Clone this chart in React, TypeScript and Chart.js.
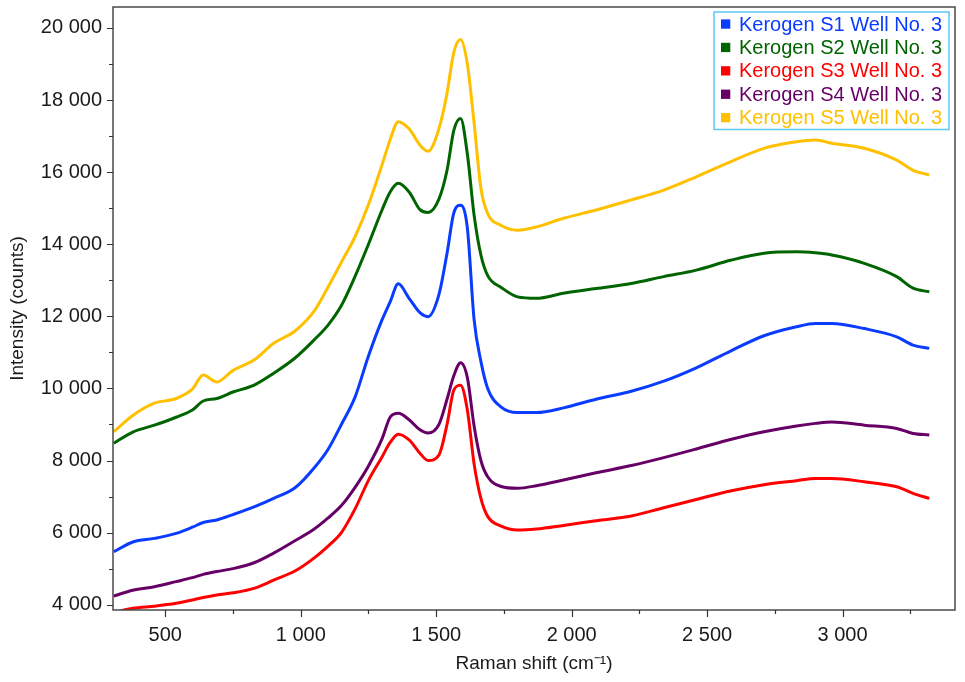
import React, { useEffect, useRef } from "react";
import { Chart, registerables } from "chart.js";

Chart.register(...registerables);

// Raman shift (cm⁻¹) sample positions
const ramanShift = [
  310, 380, 460, 540, 600, 640, 690, 750, 830, 900, 980, 1050, 1100, 1150, 1200, 1250,
  1300, 1330, 1360, 1400, 1440, 1470, 1510, 1540, 1565, 1590, 1615, 1640, 1665, 1690,
  1740, 1800, 1870, 1970, 2090, 2220, 2340, 2460, 2590, 2710, 2830, 2900, 2960, 3080,
  3200, 3260, 3320,
];

const kerogenS1 = [
  5470, 5740, 5840, 5980, 6150, 6280, 6350, 6500, 6720, 6950, 7250, 7800, 8300, 9000, 9750, 10900,
  11900, 12400, 12900, 12500, 12100, 11990, 12600, 13750, 14870, 15080, 14450, 11900, 10750, 10000,
  9480, 9330, 9330, 9460, 9700, 9920, 10200, 10570, 11050, 11460, 11710, 11800, 11800, 11660,
  11430, 11200, 11110,
];

const kerogenS2 = [
  8480, 8790, 8980, 9200, 9400, 9650, 9720, 9900, 10100, 10420, 10850, 11350, 11750, 12300, 13100, 14000,
  14950, 15450, 15690, 15450, 14960, 14880, 15250, 16050, 17160, 17490, 16500, 14800, 13700, 13130,
  12800, 12540, 12500, 12640, 12770, 12910, 13100, 13280, 13560, 13750, 13790, 13760, 13700, 13470,
  13100, 12780, 12680,
];

const kerogenS3 = [
  3780, 3900, 3960, 4040, 4130, 4200, 4270, 4330, 4460, 4680, 4940, 5300, 5620, 6000, 6650, 7450,
  8100, 8500, 8730, 8570, 8200, 8000, 8150, 9000, 9950, 10090, 9400, 7900, 6950, 6450,
  6180, 6070, 6100, 6200, 6330, 6460, 6690, 6920, 7160, 7330, 7440, 7500, 7500, 7410,
  7270, 7090, 6950,
];

const kerogenS4 = [
  4240, 4400, 4500, 4640, 4750, 4840, 4920, 5000, 5170, 5430, 5780, 6100, 6400, 6750, 7250, 7850,
  8600, 9200, 9310, 9130, 8850, 8760, 9000, 9700, 10350, 10710, 10300, 8950, 8000, 7550,
  7280, 7230, 7300, 7460, 7660, 7860, 8080, 8320, 8590, 8800, 8960, 9030, 9070, 8980,
  8890, 8750, 8710,
];

const kerogenS5 = [
  8800, 9250, 9590, 9720, 9980, 10370, 10180, 10500, 10800, 11250, 11600, 12150, 12800, 13500, 14200, 15100,
  16200, 16900, 17400, 17200, 16750, 16580, 17200, 18190, 19320, 19680, 19000, 17350, 15550, 14850,
  14520, 14390, 14480, 14720, 14950, 15230, 15500, 15870, 16300, 16660, 16840, 16890, 16800, 16660,
  16330, 16050, 15920,
];

const xTickValues = [500, 1000, 1500, 2000, 2500, 3000];
const yTickValues = [4000, 6000, 8000, 10000, 12000, 14000, 16000, 18000, 20000];
const xMinorTickValues = [750, 1250, 1750, 2250, 2750, 3250];
const yMinorTickValues = [5000, 7000, 9000, 11000, 13000, 15000, 17000, 19000];

const seriesLabels = [
  "Kerogen S1 Well No. 3",
  "Kerogen S2 Well No. 3",
  "Kerogen S3 Well No. 3",
  "Kerogen S4 Well No. 3",
  "Kerogen S5 Well No. 3",
];
const seriesValues = [kerogenS1, kerogenS2, kerogenS3, kerogenS4, kerogenS5];
const seriesColors = ["#0a3cff", "#006400", "#ff0000", "#660066", "#ffc000"];

const FONT = '"Liberation Sans", Arial, sans-serif';

const fmt = (v: number) => String(v).replace(/\B(?=(\d{3})+(?!\d))/g, " ");

const framePlugin = {
  id: "frameAndLegend",
  afterDraw(chart: any) {
    const { ctx, chartArea } = chart;
    const { left, right, top, bottom } = chartArea;
    const xs = chart.scales.x;
    const ys = chart.scales.y;
    ctx.save();
    // frame
    ctx.strokeStyle = "#4a4a4a";
    ctx.lineWidth = 1.5;
    ctx.strokeRect(left, top, right - left, bottom - top);
    // tick marks (major + minor)
    ctx.lineWidth = 1.2;
    ctx.strokeStyle = "#333";
    ctx.beginPath();
    yTickValues.forEach((v) => {
      const py = Math.round(ys.getPixelForValue(v)) + 0.5;
      ctx.moveTo(left - 6, py);
      ctx.lineTo(left, py);
    });
    yMinorTickValues.forEach((v) => {
      const py = Math.round(ys.getPixelForValue(v)) + 0.5;
      ctx.moveTo(left - 4, py);
      ctx.lineTo(left, py);
    });
    xTickValues.forEach((v) => {
      const px = Math.round(xs.getPixelForValue(v)) + 0.5;
      ctx.moveTo(px, bottom);
      ctx.lineTo(px, bottom + 7);
    });
    xMinorTickValues.forEach((v) => {
      const px = Math.round(xs.getPixelForValue(v)) + 0.5;
      ctx.moveTo(px, bottom);
      ctx.lineTo(px, bottom + 4);
    });
    ctx.stroke();

    // legend box
    const boxRight = right - 6;
    const boxTop = top + 5;
    const boxW = 235;
    const rowH = 23.4;
    const boxH = rowH * seriesLabels.length + 0.5;
    const boxLeft = boxRight - boxW;
    ctx.fillStyle = "#ffffff";
    ctx.fillRect(boxLeft, boxTop, boxW, boxH);
    ctx.strokeStyle = "#5bc8f5";
    ctx.lineWidth = 1.5;
    ctx.strokeRect(boxLeft, boxTop, boxW, boxH);
    ctx.font = `20px ${FONT}`;
    ctx.textBaseline = "middle";
    ctx.textAlign = "left";
    chart.data.datasets.forEach((ds: any, i: number) => {
      const cy = boxTop + rowH * i + rowH / 2 + 0.3;
      ctx.fillStyle = ds.borderColor;
      ctx.fillRect(boxLeft + 7, cy - 4.6, 9.3, 9.3);
      ctx.fillText(ds.label, boxLeft + 25, cy + 1);
    });
    ctx.restore();
  },
};

export default function App() {
  const canvasRef = useRef<HTMLCanvasElement | null>(null);

  useEffect(() => {
    if (!canvasRef.current) return;
    const datasets = seriesLabels.map((label, i) => ({
      label,
      data: ramanShift.map((x, j) => ({ x, y: seriesValues[i][j] })),
      borderColor: seriesColors[i],
      backgroundColor: seriesColors[i],
      borderWidth: 3,
      pointRadius: 0,
      fill: false,
      cubicInterpolationMode: "monotone" as const,
    }));
    const chart = new Chart(canvasRef.current, {
      type: "line",
      data: { datasets },
      plugins: [framePlugin],
      options: {
        responsive: false,
        animation: false,
        layout: { padding: { left: 0, right: 10, top: 7, bottom: 0 } },
        plugins: {
          legend: { display: false },
          tooltip: { enabled: false },
        },
        scales: {
          x: {
            type: "linear",
            min: 307,
            max: 3415,
            grid: { display: false, drawTicks: true, tickLength: 7 },
            border: { display: false },
            afterBuildTicks: (scale: any) => {
              scale.ticks = xTickValues.map((value) => ({ value }));
            },
            ticks: {
              padding: 6,
              color: "#1a1a1a",
              font: { family: FONT, size: 20 },
              maxRotation: 0,
              autoSkip: false,
              callback: (v: any) => fmt(Number(v)),
            },
            title: {
              display: true,
              text: "Raman shift (cm⁻¹)",
              color: "#1a1a1a",
              font: { family: FONT, size: 19 },
              padding: { top: 0, bottom: 7 },
            },
            afterFit: (scale: any) => {
              scale.height = 72;
              scale.paddingLeft = 0;
              scale.paddingRight = 0;
            },
          },
          y: {
            type: "linear",
            min: 3853,
            max: 20580,
            grid: { display: false, drawTicks: true, tickLength: 6 },
            border: { display: false },
            afterBuildTicks: (scale: any) => {
              scale.ticks = yTickValues.map((value) => ({ value }));
            },
            ticks: {
              padding: 5,
              color: "#1a1a1a",
              font: { family: FONT, size: 20 },
              autoSkip: false,
              callback: (v: any) => fmt(Number(v)),
            },
            title: {
              display: true,
              text: "Intensity (counts)",
              color: "#1a1a1a",
              font: { family: FONT, size: 19 },
              padding: { top: 6, bottom: 0 },
            },
            afterFit: (scale: any) => {
              scale.width = 113;
              scale.paddingTop = 0;
              scale.paddingBottom = 0;
            },
          },
        },
      },
    });
    return () => chart.destroy();
  }, []);

  return (
    <div
      style={{
        position: "fixed",
        left: 0,
        top: 0,
        width: 965,
        height: 682,
        background: "#ffffff",
      }}
    >
      <canvas ref={canvasRef} width={965} height={682} style={{ display: "block" }} />
    </div>
  );
}
